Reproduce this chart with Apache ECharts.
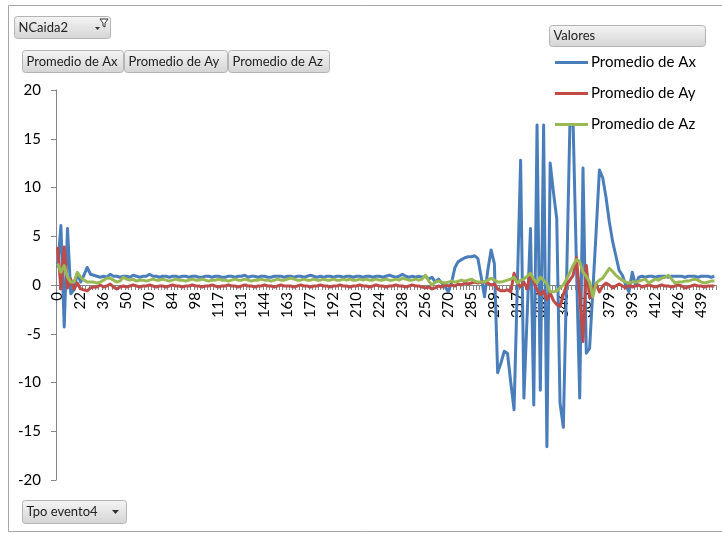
<!DOCTYPE html>
<html>
<head>
<meta charset="utf-8">
<script src="https://cdn.jsdelivr.net/npm/echarts@6/dist/echarts.min.js"></script>
<style>
  html, body { margin: 0; padding: 0; background: #fff; }
  #chart { width: 722px; height: 534px; }
</style>
</head>
<body>
<div id="chart"></div>
<script>
// Tick labels shown on the time axis (every 7th sample of "Tpo evento4")
const tickLabels = [0, 22, 36, 50, 70, 84, 98, 117, 131, 144, 163, 177, 192, 210, 224,
  238, 256, 270, 285, 299, 317, 332, 346, 365, 379, 393, 412, 426, 439];
const labelStep = 7;

// Promedio de Ax
const ax = [
  1.8, 6.1, -4.3, 5.8, -0.9, -0.5, 1.2, 0.3, 1.0, 1.8,
  1.1, 1.0, 0.9, 0.8, 0.9, 0.8, 1.1, 0.9, 0.9, 0.8,
  0.9, 0.9, 0.8, 1.0, 0.9, 0.8, 0.9, 0.9, 1.1, 0.9,
  0.9, 0.8, 0.9, 0.9, 0.8, 0.9, 0.9, 0.8, 0.9, 0.9,
  0.8, 0.9, 0.9, 0.8, 0.8, 0.9, 0.9, 0.8, 0.9, 0.9,
  0.8, 0.8, 0.9, 0.9, 0.8, 0.9, 0.9, 1.0, 0.8, 0.9,
  0.9, 0.8, 0.9, 0.9, 0.8, 0.8, 0.9, 0.9, 0.9, 0.8,
  0.9, 0.9, 0.8, 0.9, 0.9, 0.8, 0.9, 1.0, 0.9, 0.8,
  0.9, 0.8, 0.9, 0.9, 0.8, 0.9, 0.9, 0.8, 0.9, 0.9,
  0.8, 0.9, 0.9, 0.8, 0.9, 0.9, 0.8, 0.9, 0.9, 0.8,
  0.9, 1.0, 0.9, 0.8, 0.9, 1.1, 0.9, 0.8, 0.9, 0.8,
  0.9, 0.8, 0.9, 0.6, 0.8, 0.3, 0.6, 0.2, -0.2, -0.7,
  0.3, 1.8, 2.4, 2.6, 2.8, 2.9, 2.9, 3.0, 2.7, 0.8,
  -1.2, 1.5, 3.6, 2.2, -9.0, -8.0, -6.8, -7.0, -10.0, -12.8,
  0.0, 12.8, -11.6, -3.0, 5.8, -12.3, 16.4, -10.8, 16.4, -16.6,
  12.5, 9.5, 6.8, -12.1, -14.6, 0.5, 16.4, 16.4, 2.0, -11.6,
  12.0, -7.0, -6.5, -0.5, 5.5, 11.8, 11.0, 9.0, 6.5, 4.5,
  3.0, 1.5, 1.0, 0.0, -0.7, 1.3, 0.0, 0.8, 0.9, 0.8,
  0.9, 0.9, 0.8, 0.9, 0.9, 0.9, 0.8, 0.9, 0.9, 0.9,
  0.9, 0.8, 0.9, 0.9, 0.9, 0.8, 0.9, 0.9, 0.9, 0.8, 0.9
];

// Promedio de Ay
const ay = [
  3.9, -0.4, 3.9, -0.3, 0.6, -0.4, 0.2, -0.4, -0.5, -0.6,
  -0.3, -0.2, -0.2, 0.0, -0.2, -0.1, 0.1, -0.2, -0.4, -0.2,
  -0.1, -0.2, -0.1, 0.0, -0.1, -0.2, -0.1, -0.1, 0.0, -0.1,
  -0.2, -0.1, -0.1, -0.2, -0.1, 0.0, -0.1, -0.1, -0.2, -0.1,
  -0.1, 0.0, -0.1, -0.1, -0.2, -0.1, -0.1, 0.0, -0.1, -0.2,
  -0.1, -0.1, 0.0, -0.1, -0.1, -0.2, -0.1, 0.0, -0.1, -0.1,
  -0.2, -0.1, -0.1, 0.0, -0.1, -0.1, -0.2, -0.1, 0.0, -0.1,
  -0.1, -0.1, -0.2, -0.1, 0.0, -0.1, -0.1, -0.2, -0.1, -0.1,
  0.0, -0.1, -0.1, -0.2, -0.1, -0.1, 0.0, -0.1, -0.1, -0.2,
  -0.1, -0.1, 0.0, -0.1, -0.1, -0.2, -0.1, 0.0, -0.1, -0.1,
  -0.2, -0.1, -0.1, 0.0, -0.1, -0.1, -0.2, -0.1, 0.0, -0.1,
  -0.1, -0.2, -0.3, -0.2, -0.4, -0.3, -0.1, -0.2, 0.0, -0.1,
  0.0, -0.1, 0.1, 0.0, 0.2, 0.1, 0.2, 0.3, 0.2, 0.3,
  0.3, 0.2, 0.0, 0.1, -0.4, -0.6, -0.6, -0.5, -0.7, 1.2,
  0.2, -0.2, 0.3, -0.4, 1.2, 0.3, -0.5, -1.0, -0.6, -1.5,
  -0.8, -1.6, -2.0, -2.2, -1.0, 0.0, 0.5, 1.0, 2.8, -1.0,
  -5.8, 2.0, -1.3, -0.4, 0.1, -0.7, -0.1, 0.2, 0.0, -0.3,
  -0.1, 0.1, -0.1, -0.3, 0.0, -0.2, -0.1, 0.0, -0.2, -0.1,
  0.0, -0.1, -0.2, -0.1, 0.0, -0.1, -0.1, -0.2, -0.1, 0.0,
  -0.1, -0.3, -0.2, -0.1, 0.0, -0.1, -0.1, -0.2, -0.1, -0.1, -0.1
];

// Promedio de Az
const az = [
  2.2, 1.3, 2.0, 0.8, 0.3, 0.3, 1.3, 0.8, 0.5, 0.3,
  0.3, 0.3, 0.2, 0.3, 0.5, 0.7, 0.7, 0.5, 0.3, 0.4,
  0.8, 0.6, 0.5, 0.6, 0.4, 0.5, 0.5, 0.4, 0.5, 0.6,
  0.5, 0.5, 0.6, 0.5, 0.4, 0.5, 0.6, 0.5, 0.5, 0.4,
  0.5, 0.6, 0.5, 0.5, 0.6, 0.5, 0.4, 0.5, 0.5, 0.6,
  0.5, 0.5, 0.4, 0.5, 0.6, 0.5, 0.5, 0.6, 0.5, 0.4,
  0.5, 0.5, 0.6, 0.5, 0.5, 0.4, 0.5, 0.6, 0.5, 0.5,
  0.6, 0.7, 0.6, 0.5, 0.5, 0.6, 0.5, 0.5, 0.6, 0.5,
  0.5, 0.6, 0.5, 0.5, 0.6, 0.5, 0.5, 0.6, 0.5, 0.6,
  0.5, 0.5, 0.6, 0.5, 0.6, 0.5, 0.5, 0.6, 0.5, 0.5,
  0.6, 0.5, 0.5, 0.6, 0.5, 0.7, 0.6, 0.5, 0.5, 0.6,
  0.5, 0.6, 1.0, 0.4, 0.0, 0.3, 0.4, 0.3, 0.2, 0.3,
  0.4, 0.3, 0.4, 0.5, 0.4, 0.5, 0.6, 0.4, 0.3, 0.3,
  0.3, 0.5, 0.7, 0.5, 0.3, 0.3, 0.4, 0.5, 0.6, 0.8,
  0.2, 0.5, 0.6, 0.9, 1.2, 0.6, 0.2, 0.8, 0.5, 0.1,
  -0.7, -0.7, -0.6, -0.3, 0.0, 0.6, 1.3, 2.0, 2.6, 2.4,
  1.3, 0.9, 0.3, -1.2, 0.2, 0.5, 0.7, 1.2, 1.7, 1.4,
  1.0, 0.7, 0.5, 0.3, 0.2, 0.3, 0.3, 0.4, 0.5, 0.6,
  0.2, 0.4, 0.6, 0.5, 0.7, 0.8, 1.0, 0.6, 0.2, 0.3,
  0.3, 0.4, 0.4, 0.5, 0.6, 0.5, 0.3, 0.2, 0.3, 0.4, 0.4
];

const seriesNames = ['Promedio de Ax', 'Promedio de Ay', 'Promedio de Az'];
const seriesColors = ['#4A7EBB', '#BE4B48', '#98B954'];

// One category per sample; only every 7th carries a visible label
const categories = ax.map((_, i) =>
  i % labelStep === 0 && tickLabels[i / labelStep] !== undefined ? String(tickLabels[i / labelStep]) : '');

const FONT = 'Lato, "Open Sans", sans-serif';
const Y_MIN = -20, Y_MAX = 20;
const GRID_TOP = 90, GRID_BOTTOM = 54, CHART_H = 534;

// Pivot-table field button (grey rounded box with caption)
function fieldButton(x, y, w, h, label) {
  return {
    type: 'group', x: x, y: y, silent: true,
    children: [
      {
        type: 'rect', shape: { x: 0, y: 0, width: w, height: h, r: 3 },
        style: {
          fill: new echarts.graphic.LinearGradient(0, 0, 0, 1, [
            { offset: 0, color: '#f5f5f5' }, { offset: 1, color: '#d4d4d4' }]),
          stroke: '#b4b4b4', lineWidth: 1
        }
      },
      {
        type: 'text', x: 4, y: h / 2,
        style: { text: label, fontSize: 13, fontFamily: FONT, fill: '#222', verticalAlign: 'middle' }
      }
    ]
  };
}

// The category axis sits on y = 0: shift it up from the grid bottom by the zero line's height
const plotH = CHART_H - GRID_TOP - GRID_BOTTOM;
const zeroOffset = -plotH * (0 - Y_MIN) / (Y_MAX - Y_MIN);

const chart = echarts.init(document.getElementById('chart'), null, { renderer: 'canvas' });

chart.setOption({
  backgroundColor: '#fff',
  animation: false,
  color: seriesColors,
  grid: { left: 56, right: 6, top: GRID_TOP, bottom: GRID_BOTTOM, containLabel: false },
  legend: {
    orient: 'vertical', left: 550, top: 50,
    icon: 'rect', itemWidth: 33, itemHeight: 3, itemGap: 16,
    textStyle: { fontSize: 15, fontFamily: FONT, color: '#000', padding: [0, 0, 0, -2] },
    data: seriesNames
  },
  xAxis: {
    type: 'category',
    data: categories,
    boundaryGap: true,
    offset: zeroOffset,
    axisLine: { onZero: false, lineStyle: { color: '#868686', width: 1 } },
    axisTick: { show: true, interval: 0, length: 5, lineStyle: { color: '#868686' } },
    axisLabel: {
      interval: labelStep - 1, rotate: 90, margin: 7,
      fontSize: 15, fontFamily: FONT, color: '#000'
    },
    splitLine: { show: false }
  },
  yAxis: {
    type: 'value', min: Y_MIN, max: Y_MAX, interval: 5,
    axisLine: { show: true, lineStyle: { color: '#868686', width: 1 } },
    axisTick: { show: true, length: 5, lineStyle: { color: '#868686' } },
    axisLabel: { fontSize: 15, fontFamily: FONT, color: '#000', margin: 15 },
    splitLine: { show: false }
  },
  series: [ax, ay, az].map((values, k) => ({
    name: seriesNames[k],
    type: 'line',
    data: values,
    symbol: 'none',
    lineStyle: { width: 3, color: seriesColors[k], join: 'round' },
    itemStyle: { color: seriesColors[k] },
    z: 2 + k
  })),
  graphic: [
    // chart area frame
    {
      type: 'rect', silent: true, z: -1,
      shape: { x: 8.5, y: 5.5, width: 760, height: 526 },
      style: { fill: 'none', stroke: '#a6a6a6', lineWidth: 1 }
    },
    fieldButton(14.5, 16.5, 96, 22, 'NCaida2'),
    // filter glyph on the NCaida2 button
    {
      type: 'polygon', silent: true,
      shape: { points: [[100, 19], [108, 19], [105, 23], [105, 27], [103, 26], [103, 23]] },
      style: { fill: '#fff', stroke: '#333', lineWidth: 1 }
    },
    {
      type: 'polygon', silent: true,
      shape: { points: [[95, 27], [100, 27], [97.5, 30]] },
      style: { fill: '#333' }
    },
    fieldButton(22.5, 50.5, 101, 22, 'Promedio de Ax'),
    fieldButton(124.5, 50.5, 103, 22, 'Promedio de Ay'),
    fieldButton(228.5, 50.5, 101, 22, 'Promedio de Az'),
    fieldButton(549.5, 25.5, 156, 21, 'Valores'),
    fieldButton(22.5, 500.5, 104, 23, 'Tpo evento4'),
    {
      type: 'polygon', silent: true,
      shape: { points: [[112, 510], [119, 510], [115.5, 514]] },
      style: { fill: '#333' }
    }
  ]
});
</script>
</body>
</html>
